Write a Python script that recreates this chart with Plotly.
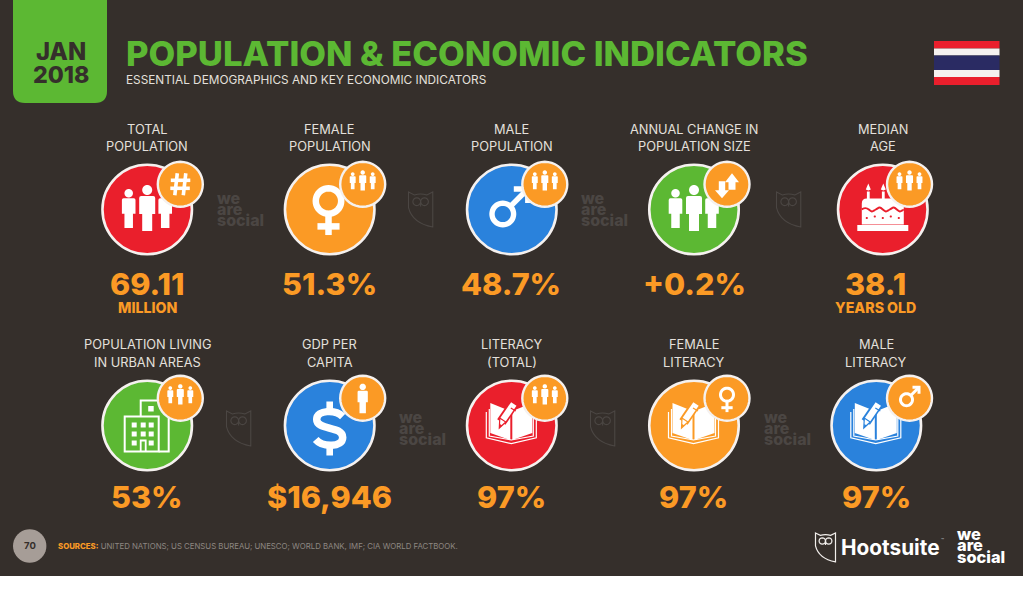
import math
import plotly.graph_objects as go

# ---------- data ----------
LABELS_TOP = [["TOTAL", "POPULATION"], ["FEMALE", "POPULATION"], ["MALE", "POPULATION"],
              ["ANNUAL CHANGE IN", "POPULATION SIZE"], ["MEDIAN", "AGE"]]
VALUES_TOP = ["69.11", "51.3%", "48.7%", "+0.2%", "38.1"]
UNITS_TOP = ["MILLION", "", "", "", "YEARS OLD"]
COLORS_TOP = ["red", "orange", "blue", "green", "red"]
ICONS_TOP = ["people", "female", "male", "people", "cake"]
BADGES_TOP = ["hash", "group", "group", "arrows", "group"]

LABELS_BOT = [["POPULATION LIVING", "IN URBAN AREAS"], ["GDP PER", "CAPITA"], ["LITERACY", "(TOTAL)"],
              ["FEMALE", "LITERACY"], ["MALE", "LITERACY"]]
VALUES_BOT = ["53%", "$16,946", "97%", "97%", "97%"]
UNITS_BOT = ["", "", "", "", ""]
COLORS_BOT = ["green", "blue", "red", "orange", "blue"]
ICONS_BOT = ["building", "dollar", "book", "book", "book"]
BADGES_BOT = ["group", "person", "group", "female", "male"]

TITLE = "POPULATION & ECONOMIC INDICATORS"
SUBTITLE = "ESSENTIAL DEMOGRAPHICS AND KEY ECONOMIC INDICATORS"
PAGE = "70"
SOURCES_HEAD = "SOURCES:"
SOURCES = "UNITED NATIONS; US CENSUS BUREAU; UNESCO; WORLD BANK, IMF; CIA WORLD FACTBOOK."

# ---------- style / layout ----------
PAL = dict(red="#ea1f2c", orange="#fb9a25", blue="#2a82dc", green="#5cb833")
BG = "#352f2b"
WM = "#4b4643"
LBL = "#e4e0dc"
FONT = "Inter"
CX_TOP = [147.2, 329.7, 511.8, 694, 882.8]
BX_TOP = [180.3, 362.7, 544.8, 727, 909.5]
VX_TOP = [147, 329, 511, 694, 875]
CX_BOT = [147.2, 329.7, 511.8, 694, 876.3]
BX_BOT = [180.3, 362.7, 544.8, 727, 909.5]
VX_BOT = [147, 329, 511, 693, 876]
CY_TOP, CY_BOT = 209.5, 425.5
BY_TOP, BY_BOT = 184.3, 398.2

shapes, notes = [], []


def shp(path, fill=None, color=None, width=0, layer="above"):
    d = dict(type="path", path=path, layer=layer, xref="x", yref="y",
             line=dict(color=color or "rgba(0,0,0,0)", width=width))
    d["fillcolor"] = fill or "rgba(0,0,0,0)"
    shapes.append(d)


def P(pts, close=True):
    s = "M" + " L".join(f"{x:.2f},{y:.2f}" for x, y in pts)
    return s + (" Z" if close else "")


def circ(cx, cy, r, n=40):
    return P([(cx + r * math.cos(2 * math.pi * i / n), cy + r * math.sin(2 * math.pi * i / n)) for i in range(n)])


def rect(x0, y0, x1, y1, fill, layer="above"):
    shp(P([(x0, y0), (x1, y0), (x1, y1), (x0, y1)]), fill=fill, layer=layer)


def text(x, y, s, size, color, weight=400, anchor="center", family=None):
    notes.append(dict(x=x, y=y, xref="x", yref="y", text=s, showarrow=False, xanchor=anchor, yanchor="middle",
                      align=anchor,
                      font=dict(family=family or FONT, size=size, color=color, weight=weight),
                      borderpad=0, borderwidth=0))


def person(cx, top, s, fill="white"):
    shp(circ(cx, top + 5 * s, 5 * s), fill=fill)
    q = lambda x, y: f"{cx + x * s:.2f},{top + y * s:.2f}"
    shp(f"M{q(-6, 11)} L{q(6, 11)} Q{q(8, 11)} {q(8, 13)} L{q(8, 29)} L{q(5, 29)} L{q(5, 46)} "
        f"L{q(-5, 46)} L{q(-5, 29)} L{q(-8, 29)} L{q(-8, 13)} Q{q(-8, 11)} {q(-6, 11)} Z", fill=fill)


def venus(cx, cy, s, w):
    shp(circ(cx, cy, s), color="white", width=w)
    shp(P([(cx, cy + s), (cx, cy + 2.68 * s)], False), color="white", width=w)
    shp(P([(cx - 0.87 * s, cy + 2.0 * s), (cx + 0.87 * s, cy + 2.0 * s)], False), color="white", width=w)


def mars(cx, cy, r, w, k, arm):
    c = math.sqrt(0.5)
    tipx, tipy = cx + k, cy - k
    shp(circ(cx, cy, r), color="white", width=w)
    shp(P([(cx + r * c, cy - r * c), (tipx, tipy)], False), color="white", width=w)
    shp(P([(tipx - arm, tipy), (tipx, tipy), (tipx, tipy + arm)], False), color="white", width=w)


def dollar(cx, cy, w=7.5):
    shp(f"M{cx + 13:.1f},{cy - 12:.1f} C{cx + 6:.1f},{cy - 19:.1f} {cx - 13:.1f},{cy - 19:.1f} {cx - 13:.1f},{cy - 9:.1f} "
        f"C{cx - 13:.1f},{cy + 2:.1f} {cx + 13:.1f},{cy - 3:.1f} {cx + 13:.1f},{cy + 9:.1f} "
        f"C{cx + 13:.1f},{cy + 19:.1f} {cx - 7:.1f},{cy + 19:.1f} {cx - 14:.1f},{cy + 11:.1f}",
        color="white", width=w)
    rect(cx - 3.3, cy - 27, cx + 3.3, cy - 16, "white")
    rect(cx - 3.3, cy + 16, cx + 3.3, cy + 27, "white")


def cake(cx, cy, col):
    rect(cx - 25.5, cy + 15.5, cx + 25.5, cy + 21.5, "white")
    shp(f"M{cx - 21:.1f},{cy + 15:.1f} L{cx - 21:.1f},{cy - 6:.1f} Q{cx - 21:.1f},{cy - 11:.1f} {cx - 16:.1f},{cy - 11:.1f} "
        f"L{cx + 16:.1f},{cy - 11:.1f} Q{cx + 21:.1f},{cy - 11:.1f} {cx + 21:.1f},{cy - 6:.1f} L{cx + 21:.1f},{cy + 15:.1f} Z",
        fill="white")
    wave = f"M{cx - 21:.1f},{cy + 0:.1f}"
    xs = [cx - 14, cx - 7, cx, cx + 7, cx + 14, cx + 21]
    for i, x in enumerate(xs):
        y = cy + (-3 if i % 2 == 0 else 2)
        wave += f" S{x - 3.5:.1f},{y:.1f} {x:.1f},{cy + 0:.1f}"
    shp(wave, color=col, width=2)
    for dx in (-16, -8, 0, 8, 16):
        shp(circ(cx + dx, cy + 7 + (0 if dx % 16 else 1.5), 1.1, 10), fill=col)
    for dx in (-14.5, 0.5):
        rect(cx + dx - 1.4, cy - 18, cx + dx + 1.4, cy - 10, "white")
        shp(P([(cx + dx, cy - 26), (cx + dx + 2.5, cy - 20), (cx + dx, cy - 19), (cx + dx - 2.5, cy - 20)]), fill="white")


def building(cx, cy):
    w = 2
    shp(P([(cx - 7, cy - 11), (cx - 7, cy - 27), (cx + 21, cy - 27), (cx + 21, cy + 24), (cx + 11, cy + 24)], False),
        color="white", width=w)
    rect(cx + 0.5, cy - 21.5, cx + 6, cy - 16, "white")
    shp(P([(cx - 23, cy - 11), (cx + 11, cy - 11), (cx + 11, cy + 24), (cx - 23, cy + 24)]), fill=None, color="white", width=w)
    for dy in (-5, 4, 13):
        for dx in (-16, -7, 1):
            if dy == 13 and dx == -7:
                continue
            rect(cx + dx, cy + dy, cx + dx + 5, cy + dy + 5, "white")
    shp(P([(cx - 7, cy + 24), (cx - 7, cy + 13), (cx - 2, cy + 13), (cx - 2, cy + 24)], False), color="white", width=1.8)


def book(cx, cy, col):
    for o in (0, 3):
        d = 5 + o
        shp(P([(cx - 19 - d + 2, cy - 16 + o), (cx - 19 - d + 2, cy + 11 + o * 0.6), (cx, cy + 15 + o * 1.2),
               (cx + 19 + d - 2, cy + 11 + o * 0.6), (cx + 19 + d - 2, cy - 16 + o)], False), color="white", width=1.2)
    shp(P([(cx - 21, cy - 22), (cx - 1, cy - 14), (cx - 1, cy + 15), (cx - 21, cy + 8)]), fill="white")
    shp(P([(cx + 1, cy - 14), (cx + 21, cy - 22), (cx + 21, cy + 8), (cx + 1, cy + 15)]), fill="white")
    shp(P([(cx - 10, cy - 3), (cx + 3, cy - 22)], False), color=col, width=10)
    shp(P([(cx - 8.5, cy - 5), (cx + 2.5, cy - 21)], False), color="white", width=6.5)
    shp(P([(cx - 12, cy + 3), (cx - 11.5, cy - 7), (cx - 5.5, cy - 3)]), fill="white", color=col, width=1.2)
    shp(P([(cx - 0.5, cy - 17), (cx + 4.5, cy - 14)], False), color=col, width=1.2)
    shp(P([(cx - 12, cy + 3), (cx - 11.5, cy - 1), (cx - 9, cy + 0.5)]), fill=col)


def arrows(cx, cy):
    ux = cx + 5
    shp(P([(ux, cy - 11), (ux + 7, cy - 2), (ux + 3.5, cy - 2), (ux + 3.5, cy + 5.5), (ux - 3.5, cy + 5.5), (ux - 3.5, cy - 2), (ux - 7, cy - 2)]), fill="white")
    dx = cx - 5
    shp(P([(dx, cy + 14), (dx - 7, cy + 6), (dx - 3.2, cy + 6), (dx - 3.2, cy - 3), (dx + 3.2, cy - 3), (dx + 3.2, cy + 6), (dx + 7, cy + 6)]), fill="white")


def hash_icon(cx, cy):
    w = 3.6
    shp(P([(cx - 3, cy - 11), (cx - 5.5, cy + 11)], False), color="white", width=w)
    shp(P([(cx + 5.5, cy - 11), (cx + 3, cy + 11)], False), color="white", width=w)
    shp(P([(cx - 9.5, cy - 4), (cx + 10, cy - 4)], False), color="white", width=w)
    shp(P([(cx - 10, cy + 4), (cx + 9.5, cy + 4)], False), color="white", width=w)


def owl(x, y, s, color, w):
    q = lambda a, b: f"{x + a * s:.2f},{y + b * s:.2f}"
    shp(f"M{q(0, 0)} L{q(6, 3)} Q{q(12.5, 1)} {q(19, 3)} L{q(25, 0)} L{q(25, 36)} Q{q(4, 32)} {q(0, 16)} Z", color=color, width=w, layer="below")
    shp(circ(x + 8.5 * s, y + 10 * s, 4 * s, 16), color=color, width=w, layer="below")
    shp(circ(x + 16.5 * s, y + 10 * s, 4 * s, 16), color=color, width=w, layer="below")
    shp(P([(x + 12.5 * s, y + 10 * s), (x + 12.5 * s, y + 15 * s)], False), color=color, width=w, layer="below")


def wearesocial(x, y, size, color):
    for i, t in enumerate(["we", "are", "social"]):
        text(x, y + i * size * 0.69, t, size, color, 800, "left")


# ---------- slide ----------
rect(0, 0, 1023, 576, BG, layer="below")
shp("M13,0 L107,0 L107,91 Q107,103 95,103 L25,103 Q13,103 13,91 Z", fill=PAL["green"], layer="below")
text(60.5, 51, "JAN", 23.8, BG, 800)
text(60.5, 75, "2018", 23.2, BG, 800)
text(126, 53, TITLE, 34.6, PAL["green"], 800, "left")
text(126, 79.5, SUBTITLE, 11.8, LBL, 400, "left")

for y0, y1, c in [(41, 48.5, "#ea1f2c"), (48.5, 55.5, "#f5f1ef"), (55.5, 70, "#2a2b63"), (70, 77, "#f5f1ef"), (77, 85, "#ea1f2c")]:
    rect(934, y0, 999.5, y1, c, layer="below")

for x, y in [(217, 197.7), (581, 197.7), (399, 416.5), (764, 416.5)]:
    wearesocial(x, y, 16, WM)
for x, y in [(408.5, 192), (776.5, 192), (226.5, 411), (590.5, 411)]:
    owl(x, y, 0.97, WM, 1.1)

# ---------- panels ----------
rows = [
    (LABELS_TOP, VALUES_TOP, UNITS_TOP, COLORS_TOP, ICONS_TOP, BADGES_TOP, CX_TOP, BX_TOP, VX_TOP, CY_TOP, BY_TOP, (129.5, 146.5), 283, 307.5),
    (LABELS_BOT, VALUES_BOT, UNITS_BOT, COLORS_BOT, ICONS_BOT, BADGES_BOT, CX_BOT, BX_BOT, VX_BOT, CY_BOT, BY_BOT, (344.5, 362), 496.5, 520),
]
mx, my, mc = [], [], []
for labels, values, units, colors, icons, badges, cxs, bxs, vxs, cy, by, ly, vy, uy in rows:
    for lab, val, un, col, ic, bd, cx, bx, vx in zip(labels, values, units, colors, icons, badges, cxs, bxs, vxs):
        c = PAL[col]
        mx.append(cx); my.append(cy); mc.append(c)
        text(cx, ly[0], lab[0], 12.8, LBL)
        text(cx, ly[1], lab[1], 12.8, LBL)
        text(vx, vy, val, 30.6, PAL["orange"], 800)
        if un:
            text(vx, uy, un, 14.2, PAL["orange"], 800)
        if ic == "people":
            person(cx + 18, cy - 20.5, 0.85)
            person(cx - 18.5, cy - 20.5, 0.85)
            person(cx, cy - 24.5, 1)
        elif ic == "female":
            venus(cx - 1.2, cy - 8.5, 12.7, 6.5)
        elif ic == "male":
            mars(cx - 9, cy + 4.5, 10.8, 5.4, 25, 14)
        elif ic == "cake":
            cake(cx, cy, c)
        elif ic == "building":
            building(cx + 0.5, cy + 2)
        elif ic == "dollar":
            dollar(cx, cy + 3)
        elif ic == "book":
            book(cx - 0.5, cy - 0.5, c)
        shp(circ(bx, by, 22.5), fill=PAL["orange"], color="#f5f1ef", width=2.4)
        if bd == "hash":
            hash_icon(bx, by)
        elif bd == "group":
            person(bx + 10, by - 12, 0.37)
            person(bx - 10, by - 12, 0.37)
            person(bx, by - 14, 0.44)
        elif bd == "person":
            person(bx, by - 14.5, 0.64)
        elif bd == "arrows":
            arrows(bx, by)
        elif bd == "female":
            venus(bx, by - 3.5, 6.5, 3)
        elif bd == "male":
            mars(bx - 3, by + 1.5, 6, 3, 12.5, 6.5)

# ---------- footer ----------
shp(circ(29.7, 546, 16.7), fill="#a69d97", layer="below")
text(29.7, 545.5, PAGE, 9.5, BG, 700)
text(58, 546, f'<span style="color:{PAL["orange"]};font-weight:800">{SOURCES_HEAD}</span> {SOURCES}', 7.8, "#8d8782", 400, "left")
owl(815.5, 533, 0.8, "#f2efec", 1.2)
text(841, 547.5, "Hootsuite", 20.8, "white", 700, "left")
text(941, 540, "™", 5, "#bbbbbb", 400, "left")
wearesocial(957, 534, 16.4, "white")

fig = go.Figure(go.Scatter(
    x=mx, y=my, mode="markers", hoverinfo="skip", showlegend=False,
    marker=dict(size=89.5, color=mc, opacity=1, line=dict(color="#f5f1ef", width=2.6)),
))
fig.update_layout(
    width=1024, height=597, margin=dict(l=0, r=0, t=0, b=0, pad=0), autosize=False,
    paper_bgcolor="white", plot_bgcolor="rgba(0,0,0,0)", showlegend=False,
    xaxis=dict(range=[0, 1024], visible=False, fixedrange=True),
    yaxis=dict(range=[597, 0], visible=False, fixedrange=True),
    shapes=shapes, annotations=notes,
)
fig.write_html("out.html", config=dict(displayModeBar=False, responsive=False),
               post_script="document.body.style.margin='0';document.documentElement.style.overflow='hidden';")
